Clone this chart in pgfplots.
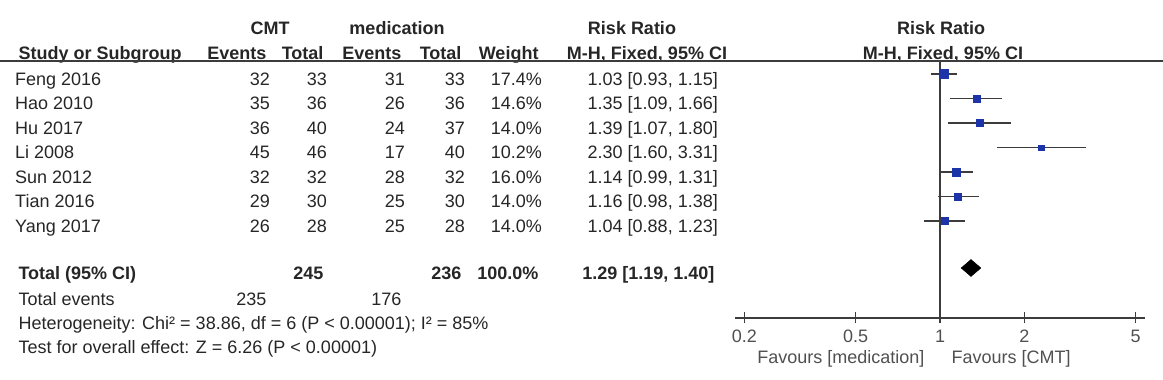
\documentclass[border=0pt]{standalone}
\usepackage{pgfplots}
\pgfplotsset{compat=1.18}
\usepackage{pgfplotstable}
\usepackage{fontspec}
\setmainfont{Liberation Sans}

\definecolor{txt}{RGB}{38,38,38}
\definecolor{soft}{RGB}{80,80,80}
\definecolor{rulec}{RGB}{60,60,60}
\definecolor{rrblue}{RGB}{28,52,168}

% yb: text baseline, ym: marker height (picture units, bottom = 0)
\pgfplotstableread{
yb    ym    e1 n1 e2 n2 w    rr   lo   hi   name
294.6 306.0 32 33 31 33 17.4 1.03 0.93 1.15 {Feng 2016}
270.1 281.5 35 36 26 36 14.6 1.35 1.09 1.66 {Hao 2010}
245.6 257.0 36 40 24 37 14.0 1.39 1.07 1.80 {Hu 2017}
221.1 232.5 45 46 17 40 10.2 2.30 1.60 3.31 {Li 2008}
196.6 208.0 32 32 28 32 16.0 1.14 0.99 1.31 {Sun 2012}
172.1 183.5 29 30 25 30 14.0 1.16 0.98 1.38 {Tian 2016}
147.6 159.0 26 28 25 28 14.0 1.04 0.88 1.23 {Yang 2017}
}\studies

\pgfplotsset{
  cell/.style={draw=none, mark=none, nodes near coords, point meta=explicit symbolic,
    every node near coord/.append style={anchor=base east, inner sep=0pt, text=txt}},
}
\newcommand{\ci}[1]{\pgfmathprintnumber[fixed, fixed zerofill, precision=2,
  assume math mode=true]{#1}}

\begin{document}
\begin{tikzpicture}[font=\fontsize{18bp}{21bp}\selectfont, text=txt]
% table part, in picture units
\begin{axis}[name=bg, at={(0,0)}, anchor=south west, scale only axis,
  width=1163bp, height=380bp, xmin=0, xmax=1163, ymin=0, ymax=380,
  hide axis, clip=false]
  % header
  \node[anchor=base] at (axis cs:270,345.6) {\bfseries CMT};
  \node[anchor=base] at (axis cs:397,345.6) {\bfseries medication};
  \node[anchor=base] at (axis cs:632,345.6) {\bfseries Risk Ratio};
  \node[anchor=base] at (axis cs:941,345.6) {\bfseries Risk Ratio};
  \node[anchor=base west] at (axis cs:15,320.6) {\bfseries Study or Subgroup};
  \node[anchor=base east] at (axis cs:270,320.6) {\bfseries Events};
  \node[anchor=base east] at (axis cs:327,320.6) {\bfseries Total};
  \node[anchor=base east] at (axis cs:405,320.6) {\bfseries Events};
  \node[anchor=base east] at (axis cs:465,320.6) {\bfseries Total};
  \node[anchor=base east] at (axis cs:542,320.6) {\bfseries Weight};
  \node[anchor=base] at (axis cs:647,320.6) {\bfseries M-H, Fixed, 95\% CI};
  \node[anchor=base] at (axis cs:943,320.6) {\bfseries M-H, Fixed, 95\% CI};
  \addplot[rulec, line width=1.4bp] coordinates {(0,319) (1163,319)};

  % study rows
  \addplot[cell, every node near coord/.append style={anchor=base west}]
    table[x expr=15, y=yb, meta=name] {\studies};
  \addplot[cell] table[x expr=270, y=yb, meta=e1] {\studies};
  \addplot[cell] table[x expr=327, y=yb, meta=n1] {\studies};
  \addplot[cell] table[x expr=405, y=yb, meta=e2] {\studies};
  \addplot[cell] table[x expr=465, y=yb, meta=n2] {\studies};
  \addplot[cell, nodes near coords={\pgfplotspointmeta\%}]
    table[x expr=542, y=yb, meta=w] {\studies};
  \addplot[cell,
    visualization depends on={\thisrow{lo} \as \cilo},
    visualization depends on={\thisrow{hi} \as \cihi},
    nodes near coords={\pgfplotspointmeta\ [\ci{\cilo}, \ci{\cihi}]}]
    table[x expr=718, y=yb, meta=rr] {\studies};

  % pooled row and summary lines
  \node[anchor=base west] at (axis cs:15,100.6) {\bfseries Total (95\% CI)};
  \node[anchor=base east] at (axis cs:327,100.6) {\bfseries 245};
  \node[anchor=base east] at (axis cs:465,100.6) {\bfseries 236};
  \node[anchor=base east] at (axis cs:542,100.6) {\bfseries 100.0\%};
  \node[anchor=base east] at (axis cs:718,100.6) {\bfseries 1.29 [1.19, 1.40]};
  \node[anchor=base west] at (axis cs:15,74.6) {Total events};
  \node[anchor=base east] at (axis cs:270,74.6) {235};
  \node[anchor=base east] at (axis cs:405,74.6) {176};
  \node[anchor=base west] at (axis cs:15,50.6)
    {Heterogeneity: Chi² = 38.86, df = 6 (P < 0.00001); I² = 85\%};
  \node[anchor=base west] at (axis cs:15,26.6)
    {Test for overall effect: Z = 6.26 (P < 0.00001)};
  \node[anchor=base east, text=soft] at (axis cs:928,16.6) {Favours [medication]};
  \node[anchor=base west, text=soft] at (axis cs:948,16.6) {Favours [CMT]};
\end{axis}

% forest plot on a log scale
\begin{axis}[at={(735bp,62bp)}, anchor=south west, scale only axis,
  width=410bp, height=257bp, xmode=log, xmin=0.1853, xmax=5.397,
  ymin=62, ymax=319, axis x line=bottom, axis y line=none, clip=false,
  x axis line style={-, color=rulec, line width=1.4bp},
  xtick={0.2,0.5,1,2,5}, xticklabels={0.2,0.5,1,2,5}, minor xtick={},
  major tick length=11bp, tick align=center,
  tick style={rulec, line width=1.4bp},
  /pgf/number format/assume math mode=true,
  xticklabel style={anchor=base, inner sep=0pt, yshift=-18.5bp, text=soft}]
  \addplot[rulec, line width=1.4bp] coordinates {(1,62) (1,319)};
  \addplot[only marks, mark=none,
    error bars/.cd, x dir=both, x explicit, error mark=none,
    error bar style={color=rulec, line width=1.4bp}]
    table[x=rr, y=ym, x error plus expr=\thisrow{hi}-\thisrow{rr},
          x error minus expr=\thisrow{rr}-\thisrow{lo}] {\studies};
  \addplot[only marks, mark=square*, scatter,
    scatter/use mapped color={draw=rrblue, fill=rrblue},
    visualization depends on={0.26*\thisrow{w} \as \msz},
    scatter/@pre marker code/.append style={/tikz/mark size=\msz}]
    table[x=rr, y=ym] {\studies};
  % pooled estimate 1.29 [1.19, 1.40]
  \addplot[fill=black, draw=black] coordinates
    {(1.19,112) (1.29,120.5) (1.40,112) (1.29,103.5)} -- cycle;
\end{axis}
\pgfresetboundingbox
\useasboundingbox (bg.south west) rectangle (bg.north east);
\end{tikzpicture}
\end{document}
